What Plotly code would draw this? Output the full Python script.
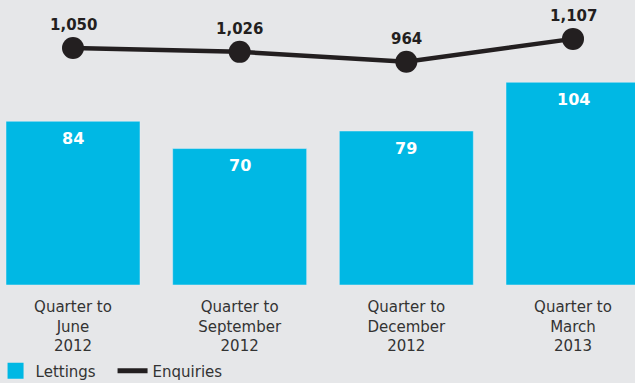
import plotly.graph_objects as go

categories = ["Quarter to<br>June<br>2012", "Quarter to<br>September<br>2012",
              "Quarter to<br>December<br>2012", "Quarter to<br>March<br>2013"]
lettings = [84, 70, 79, 104]
enquiries = [1050, 1026, 964, 1107]

BG = "#e6e7e9"
CYAN = "#00b8e4"
DARK = "#231f20"
FONT = "DejaVu Sans"

x = list(range(len(categories)))

fig = go.Figure()
fig.add_trace(go.Bar(x=x, y=lettings, name="Lettings", marker_color=CYAN,
                     width=0.804, hoverinfo="skip", showlegend=False))
fig.add_trace(go.Scatter(x=x, y=enquiries, yaxis="y2", mode="lines+markers",
                         line=dict(color=DARK, width=4.5),
                         marker=dict(size=22, color=DARK),
                         showlegend=False, hoverinfo="skip"))
# legend-only entries
fig.add_trace(go.Scatter(x=[None], y=[None], mode="markers", name="Lettings",
                         marker=dict(symbol="square", size=20, color=CYAN)))
fig.add_trace(go.Scatter(x=[None], y=[None], yaxis="y2", mode="lines",
                         name="Enquiries", line=dict(color=DARK, width=5)))

for xi, v in zip(x, lettings):
    fig.add_annotation(x=xi, y=v, yref="y", text=f"{v}", showarrow=False,
                       yshift=-17, font=dict(family=FONT, size=16, color="white", weight="bold"))
for xi, v in zip(x, enquiries):
    fig.add_annotation(x=xi, y=v, yref="y2", text=f"{v:,}", showarrow=False,
                       yshift=23, font=dict(family=FONT, size=15, color=DARK, weight="bold"))

fig.update_layout(
    width=635, height=383,
    margin=dict(l=0, r=0, t=0, b=98, autoexpand=False),
    paper_bgcolor=BG, plot_bgcolor=BG,
    font=dict(family=FONT, size=15, color="#333333"),
    bargap=0.196,
    xaxis=dict(range=[-0.438, 3.372], tickvals=x, ticktext=categories,
               showgrid=False, zeroline=False, showline=False, ticks="",
               ticklabelstandoff=11, automargin=False,
               tickfont=dict(family=FONT, size=15, color="#333333")),
    yaxis=dict(range=[0, 146.2], visible=False),
    yaxis2=dict(range=[-431, 1350], overlaying="y", visible=False),
    legend=dict(orientation="h", x=-0.007, xanchor="left", y=-0.36, yanchor="bottom",
                font=dict(family=FONT, size=15, color="#333333"), bgcolor="rgba(0,0,0,0)",
                itemwidth=30, itemsizing="trace", entrywidth=72),
    showlegend=True,
)

fig.write_html("out.html")
